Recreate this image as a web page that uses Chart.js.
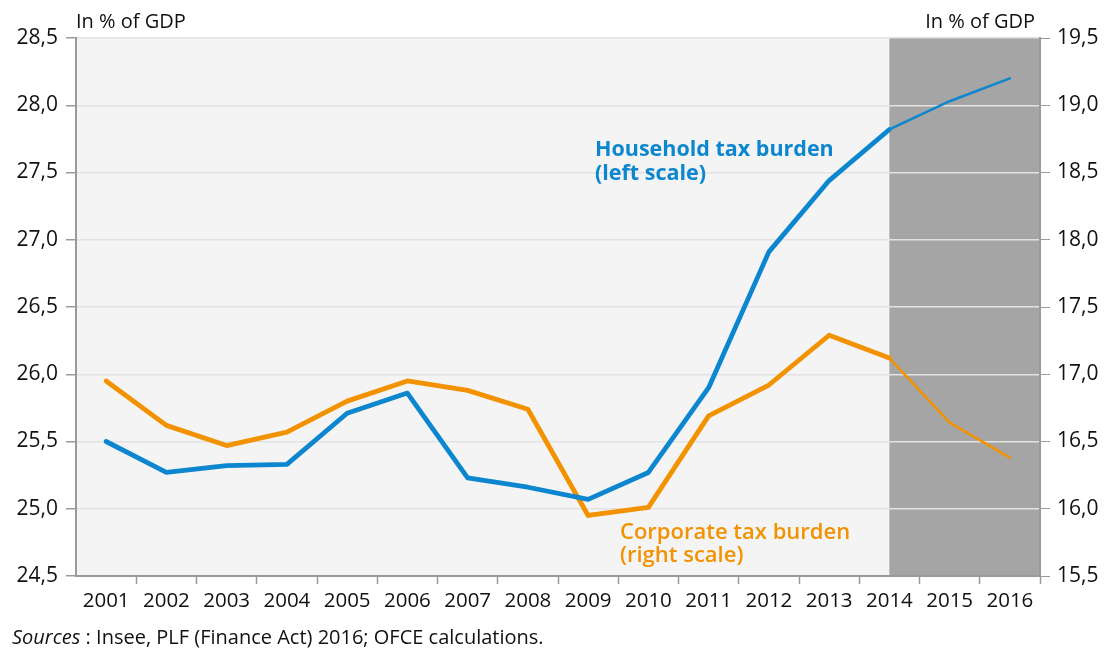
<!DOCTYPE html>
<html>
<head>
<meta charset="utf-8">
<script src="https://cdn.jsdelivr.net/npm/chart.js@4"></script>
<style>
  body { margin: 0; background: #fff; }
  #chart { width: 1113px; height: 648px; }
</style>
</head>
<body>
<div id="chart"><canvas width="1113" height="648"></canvas></div>
<script>
const years = ['2001', '2002', '2003', '2004', '2005', '2006', '2007', '2008',
  '2009', '2010', '2011', '2012', '2013', '2014', '2015', '2016'];
// left scale
const householdBurden = [25.5, 25.27, 25.32, 25.33, 25.71, 25.86, 25.23, 25.16,
  25.07, 25.27, 25.9, 26.91, 27.44, 27.82, 28.03, 28.2];
// right scale
const corporateBurden = [16.95, 16.62, 16.47, 16.57, 16.8, 16.95, 16.88, 16.74,
  15.95, 16.01, 16.69, 16.92, 17.29, 17.12, 16.64, 16.38];
const forecastFrom = '2014';

const FONT = '"Open Sans", sans-serif';
const BLUE = '#0c87cf';
const ORANGE = '#f39200';
const AXIS = '#9a9a9a';
const INK = '#111';

const comma = v => v.toFixed(1).replace('.', ',');
const forecastIdx = years.indexOf(forecastFrom);
const thin = ctx => ctx.p0DataIndex >= forecastIdx ? 2.5 : 4.8;

// plot background + grey forecast block
const backdrop = {
  id: 'backdrop',
  beforeDraw(chart) {
    const {ctx, chartArea: a, scales: {x}} = chart;
    ctx.save();
    ctx.fillStyle = '#f4f4f4';
    ctx.fillRect(a.left, a.top, a.right - a.left, a.bottom - a.top);
    const x0 = x.getPixelForValue(forecastIdx);
    ctx.fillStyle = '#a6a5a5';
    ctx.fillRect(x0, a.top, a.right - x0, a.bottom - a.top);
    ctx.restore();
  }
};

const notes = {
  id: 'notes',
  afterDraw(chart) {
    const {ctx, chartArea: a} = chart;
    ctx.save();
    ctx.textBaseline = 'alphabetic';
    ctx.fillStyle = INK;
    ctx.font = `20px ${FONT}`;
    ctx.textAlign = 'left';
    ctx.fillText('In % of GDP', a.left, 28);
    ctx.textAlign = 'right';
    ctx.fillText('In % of GDP', a.right - 5, 28);

    ctx.textAlign = 'left';
    ctx.font = `bold 21.5px ${FONT}`;
    ctx.fillStyle = BLUE;
    ctx.fillText('Household tax burden', 595, 156);
    ctx.fillText('(left scale)', 595, 180);
    ctx.font = `600 22px ${FONT}`;
    ctx.fillStyle = ORANGE;
    ctx.fillText('Corporate tax burden', 620, 539);
    ctx.fillText('(right scale)', 620, 562);

    ctx.fillStyle = INK;
    ctx.font = `italic 20px ${FONT}`;
    ctx.fillText('Sources', 12, 644);
    const w = ctx.measureText('Sources').width;
    ctx.font = `20px ${FONT}`;
    ctx.fillText(' : Insee, PLF (Finance Act) 2016; OFCE calculations.', 12 + w, 644);
    ctx.restore();
  }
};

new Chart(document.querySelector('#chart canvas'), {
  type: 'line',
  data: {
    labels: years,
    datasets: [{
      label: 'Household tax burden (left scale)',
      data: householdBurden,
      yAxisID: 'y',
      borderColor: BLUE,
      borderWidth: 4.8,
      segment: {borderWidth: thin}
    }, {
      label: 'Corporate tax burden (right scale)',
      data: corporateBurden,
      yAxisID: 'y1',
      borderColor: ORANGE,
      borderWidth: 4.8,
      segment: {borderWidth: thin}
    }]
  },
  options: {
    responsive: false,
    animation: false,
    layout: {padding: {top: 38, bottom: 30, left: 0, right: 0}},
    elements: {
      point: {radius: 0},
      line: {tension: 0, borderJoinStyle: 'round', borderCapStyle: 'round'}
    },
    plugins: {legend: {display: false}, tooltip: {enabled: false}},
    scales: {
      x: {
        offset: true,
        grid: {
          offset: true, drawOnChartArea: false, tickLength: 8, tickWidth: 1.5,
          // no tick below the two corners
          tickColor: ctx => (ctx.index === 0 || ctx.index === years.length) ? 'rgba(0,0,0,0)' : AXIS
        },
        border: {color: AXIS, width: 2},
        ticks: {color: INK, font: {family: FONT, size: 20.5}, padding: 5, maxRotation: 0, autoSkip: false},
        afterFit(s) { s.height = 42; }
      },
      y: {
        position: 'left',
        min: 24.5, max: 28.5,
        grid: {color: '#e2e2e2', lineWidth: 1.5, tickColor: AXIS, tickLength: 10},
        border: {color: AXIS, width: 2},
        ticks: {stepSize: 0.5, color: INK, font: {family: FONT, size: 21}, padding: 8, callback: comma},
        afterFit(s) { s.width = 76; }
      },
      y1: {
        position: 'right',
        min: 15.5, max: 19.5,
        grid: {drawOnChartArea: false, tickColor: AXIS, tickLength: 10},
        border: {color: AXIS, width: 2},
        ticks: {stepSize: 0.5, color: INK, font: {family: FONT, size: 21}, padding: 7, callback: comma},
        afterFit(s) { s.width = 73; }
      }
    }
  },
  plugins: [backdrop, notes]
});
</script>
</body>
</html>
